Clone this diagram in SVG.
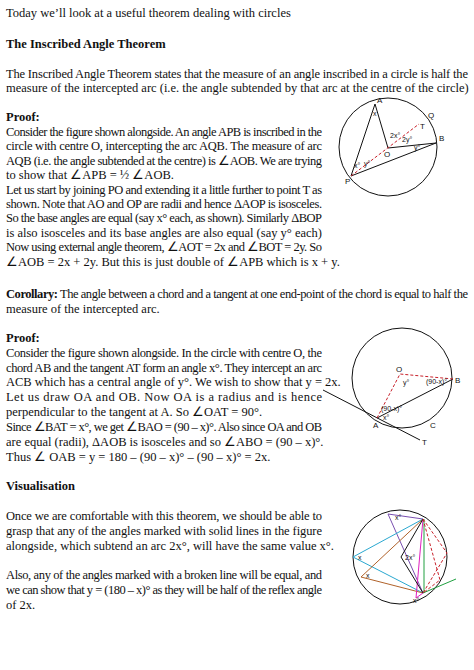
<svg xmlns="http://www.w3.org/2000/svg" width="474" height="670" viewBox="0 0 474 670">
<style>
text{font-family:"Liberation Serif","Times New Roman",serif;font-size:12.5px;fill:#111}
.b{font-weight:bold}
.s{font-family:"Liberation Sans",Arial,sans-serif;font-size:7px}
.l{font-family:"Liberation Sans",Arial,sans-serif;font-size:8px}
.k{fill:none;stroke:#111;stroke-width:1}
.r{fill:none;stroke:#c8202a;stroke-width:1;stroke-dasharray:3,2}
</style>
<rect width="474" height="670" fill="#fff"/>
<g id="text">
<text x="6" y="17">Today we’ll look at a useful theorem dealing with circles</text>
<text x="6" y="48" class="b">The Inscribed Angle Theorem</text>
<text x="6" y="78" textLength="462" lengthAdjust="spacing">The Inscribed Angle Theorem states that the measure of an angle inscribed in a circle is half the</text>
<text x="6" y="92">measure of the intercepted arc (i.e. the angle subtended by that arc at the centre of the circle)</text>
<text x="6" y="121" class="b">Proof:</text>
<text x="6" y="136" textLength="316" lengthAdjust="spacing">Consider the figure shown alongside. An angle APB is inscribed in the</text>
<text x="6" y="150" textLength="316" lengthAdjust="spacing">circle with centre O, intercepting the arc AQB. The measure of arc</text>
<text x="6" y="165" textLength="316" lengthAdjust="spacing">AQB (i.e. the angle subtended at the centre) is ∠AOB. We are trying</text>
<text x="6" y="179">to show that ∠APB = ½ ∠AOB.</text>
<text x="6" y="194" textLength="316" lengthAdjust="spacing">Let us start by joining PO and extending it a little further to point T as</text>
<text x="6" y="208" textLength="316" lengthAdjust="spacing">shown. Note that AO and OP are radii and hence ΔAOP is isosceles.</text>
<text x="6" y="222" textLength="316" lengthAdjust="spacing">So the base angles are equal (say x° each, as shown). Similarly ΔBOP</text>
<text x="6" y="237">is also isosceles and its base angles are also equal (say y° each)</text>
<text x="6" y="251" textLength="316" lengthAdjust="spacing">Now using external angle theorem, ∠AOT = 2x and ∠BOT = 2y. So</text>
<text x="6" y="266">∠AOB = 2x + 2y. But this is just double of ∠APB which is x + y.</text>
<text x="6" y="298" textLength="462" lengthAdjust="spacing"><tspan class="b">Corollary:</tspan> The angle between a chord and a tangent at one end-point of the chord is equal to half the</text>
<text x="6" y="313">measure of the intercepted arc.</text>
<text x="6" y="342" class="b">Proof:</text>
<text x="6" y="357" textLength="316" lengthAdjust="spacing">Consider the figure shown alongside. In the circle with centre O, the</text>
<text x="6" y="372" textLength="316" lengthAdjust="spacing">chord AB and the tangent AT form an angle x°. They intercept an arc</text>
<text x="6" y="386">ACB which has a central angle of y°. We wish to show that y = 2x.</text>
<text x="6" y="401" textLength="316" lengthAdjust="spacing">Let us draw OA and OB. Now OA is a radius and is hence</text>
<text x="6" y="416">perpendicular to the tangent at A. So ∠OAT = 90°.</text>
<text x="6" y="431" textLength="316" lengthAdjust="spacing">Since ∠BAT = x°, we get ∠BAO = (90 – x)°. Also since OA and OB</text>
<text x="6" y="446">are equal (radii), ΔAOB is isosceles and so ∠ABO = (90 – x)°.</text>
<text x="6" y="461">Thus ∠ OAB = y = 180 – (90 – x)° – (90 – x)° = 2x.</text>
<text x="6" y="490" class="b">Visualisation</text>
<text x="6" y="520" textLength="316" lengthAdjust="spacing">Once we are comfortable with this theorem, we should be able to</text>
<text x="6" y="535" textLength="316" lengthAdjust="spacing">grasp that any of the angles marked with solid lines in the figure</text>
<text x="6" y="550">alongside, which subtend an arc 2x°, will have the same value x°.</text>
<text x="6" y="579" textLength="316" lengthAdjust="spacing">Also, any of the angles marked with a broken line will be equal, and</text>
<text x="6" y="594" textLength="316" lengthAdjust="spacing">we can show that y = (180 – x)° as they will be half of the reflex angle</text>
<text x="6" y="609">of 2x.</text>
</g>
<g id="figure1">
<circle cx="388" cy="147" r="49" class="k"/>
<polyline points="375,104 351,176 436,143 388,148 375,104" class="k"/>
<line x1="351" y1="176" x2="419" y2="124" class="r"/>
<text x="377" y="103" class="l">A</text>
<text x="428" y="118" class="l">Q</text>
<text x="420" y="129" class="l">T</text>
<text x="439" y="141" class="l">B</text>
<text x="384" y="157" class="l">O</text>
<text x="345" y="184" class="l">P</text>
<text x="373" y="116" class="s">x</text>
<text x="390" y="138" class="s">2x°</text>
<text x="402" y="142" class="s">2y°</text>
<text x="414" y="150" class="s">y°</text>
<text x="354" y="168" class="s">x°</text>
<text x="364" y="166" class="s">y°</text>
</g>
<g id="figure2">
<circle cx="402" cy="378" r="50" class="k"/>
<line x1="323" y1="390" x2="420" y2="440" class="k"/>
<line x1="377" y1="418" x2="453" y2="379" class="k"/>
<polyline points="377,418 400,374 453,379" class="r"/>
<text x="396" y="372" class="l">O</text>
<text x="455" y="383" class="l">B</text>
<text x="373" y="428" class="l">A</text>
<text x="430" y="428" class="l">C</text>
<text x="422" y="445" class="l">T</text>
<text x="403" y="385" class="s">y°</text>
<text x="426" y="384" class="s">(90-x)°</text>
<text x="381" y="411" class="s">(90-x)°</text>
<text x="383" y="420" class="s">x°</text>
</g>
<g id="figure3">
<circle cx="400" cy="557" r="47" class="k"/>
<polyline points="423,519 388,514 423,593" fill="none" stroke="#7a4fb0"/>
<polyline points="423,519 353,557 423,593" fill="none" stroke="#2aa8d0"/>
<polyline points="423,519 361,577 423,593" fill="none" stroke="#b0622a"/>
<polyline points="423,519 416,598 423,593" fill="none" stroke="#e020c0"/>
<line x1="424" y1="519" x2="424" y2="593" stroke="#20a040"/>
<line x1="423" y1="593" x2="456" y2="579" stroke="#20a040"/>
<polyline points="423,519 401,557 423,593" class="k"/>
<polyline points="423,519 447,553 423,593" class="r"/>
<polyline points="423,519 440,580 423,593" class="r"/>
<text x="405" y="560" class="s">2x°</text>
<text x="395" y="520" class="s" fill="#7a4fb0">x°</text>
<text x="358" y="560" class="s" fill="#2aa8d0">x</text>
<text x="366" y="578" class="s" fill="#b0622a">x</text>
<text x="413" y="603" class="s" fill="#e020c0">x°</text>
</g>
</svg>
